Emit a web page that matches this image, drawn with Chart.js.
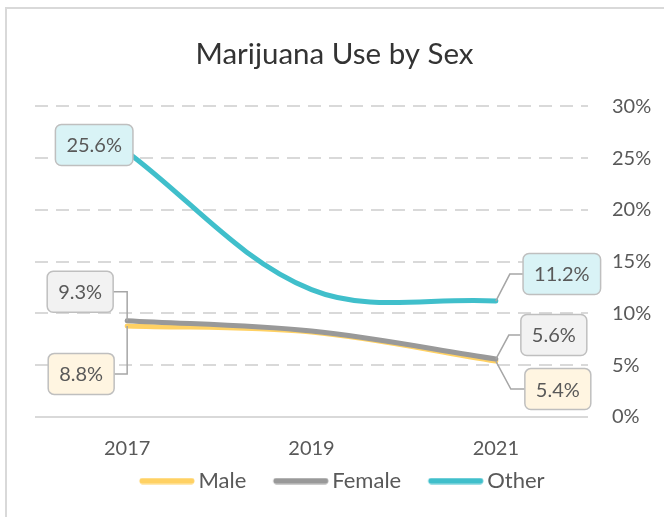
<!DOCTYPE html>
<html>
<head>
<meta charset="utf-8">
<script src="https://cdn.jsdelivr.net/npm/chart.js@4.4.1/dist/chart.umd.min.js"></script>
<style>
  html, body { margin: 0; padding: 0; background: #fff; }
  #wrap { width: 664px; height: 517px; }
</style>
</head>
<body>
<div id="wrap"><canvas id="myChart" width="664" height="517"></canvas></div>
<script>
const years = ['2017', '2019', '2021'];
const male = [8.8, 8.2, 5.4];
const female = [9.3, 8.3, 5.6];
const other = [25.6, 12.3, 11.2];
const yTicks = [0, 5, 10, 15, 20, 25, 30];

const font = "Lato, 'Open Sans', sans-serif";
const textGrey = '#595959';

// value boxes: centre offset from the point, and the elbow of the leader line
const calloutSpots = {
  Male:   {0: {dx: -46, dy: 48, elbow: 0}, 2: {dx: 62, dy: 28, elbow: 15}},
  Female: {0: {dx: -47, dy: -29, elbow: 0}, 2: {dx: 58, dy: -24, elbow: 13}},
  Other:  {0: {dx: -33, dy: -7}, 2: {dx: 66, dy: -27, elbow: 14}}
};
const calloutFill = {Male: '#fff5e1', Female: '#f2f2f2', Other: '#d9f3f6'};

// short thick line used as the legend marker (drawn right of centre so it ends near the text)
function legendStroke(color) {
  const c = document.createElement('canvas');
  c.width = 70;
  c.height = 7;
  const g = c.getContext('2d');
  g.strokeStyle = color;
  g.lineWidth = 6;
  g.lineCap = 'round';
  g.beginPath();
  g.moveTo(15.5, 3.5);
  g.lineTo(64.5, 3.5);
  g.stroke();
  return c;
}

const bgPlugin = {
  id: 'bgFrame',
  afterLayout(chart) {
    // title and legend sit a bit left of the plot centre in the original
    chart.titleBlock.left -= 15;
    chart.titleBlock.right -= 15;
    chart.legend.left -= 9;
    chart.legend.right -= 9;
    chart.legend.top -= 15;
    chart.legend.bottom -= 15;
  },
  beforeDraw(chart) {
    const {ctx} = chart;
    ctx.save();
    ctx.fillStyle = '#fff';
    ctx.fillRect(0, 0, chart.width, chart.height);
    ctx.strokeStyle = '#d9d9d9';
    ctx.lineWidth = 2;
    ctx.strokeRect(6, 8, chart.width + 20, chart.height + 20);
    ctx.restore();
  }
};

const calloutPlugin = {
  id: 'callouts',
  afterDatasetsDraw(chart) {
    const {ctx} = chart;
    chart.data.datasets.forEach((ds, di) => {
      const spots = calloutSpots[ds.label];
      const meta = chart.getDatasetMeta(di);
      Object.keys(spots).forEach(k => {
        const i = +k, s = spots[k];
        const pt = meta.data[i];
        const txt = ds.data[i].toFixed(1) + '%';
        ctx.save();
        ctx.font = '20px ' + font;
        const w = ctx.measureText(txt).width + 22, h = 41;
        const cx = pt.x + s.dx, cy = pt.y + s.dy;
        if (s.elbow !== undefined) {
          const edge = s.dx < 0 ? cx + w / 2 : cx - w / 2;
          ctx.beginPath();
          ctx.moveTo(pt.x, pt.y);
          ctx.lineTo(pt.x + s.elbow, cy);
          ctx.lineTo(edge, cy);
          ctx.strokeStyle = '#a6a6a6';
          ctx.lineWidth = 1.5;
          ctx.stroke();
        }
        ctx.beginPath();
        ctx.roundRect(cx - w / 2, cy - h / 2, w, h, 6);
        ctx.fillStyle = calloutFill[ds.label];
        ctx.fill();
        ctx.strokeStyle = '#bfbfbf';
        ctx.lineWidth = 1.5;
        ctx.stroke();
        ctx.fillStyle = textGrey;
        ctx.textAlign = 'center';
        ctx.textBaseline = 'middle';
        ctx.fillText(txt, cx, cy + 1);
        ctx.restore();
      });
    });
  }
};

const lineSet = (label, values, color, order) => ({
  label: label,
  data: values,
  borderColor: color,
  backgroundColor: color,
  borderWidth: 5,
  pointRadius: 0,
  tension: 0.35,
  borderCapStyle: 'round',
  order: order
});

new Chart(document.getElementById('myChart'), {
  type: 'line',
  data: {
    labels: years,
    datasets: [
      lineSet('Male', male, '#ffd163', 3),
      lineSet('Female', female, '#999999', 2),
      lineSet('Other', other, '#40bfcb', 1)
    ]
  },
  options: {
    responsive: false,
    animation: false,
    devicePixelRatio: 1,
    layout: {padding: {left: 35, right: 0, top: 0, bottom: 0}},
    plugins: {
      title: {
        display: true,
        text: 'Marijuana Use by Sex',
        color: '#333333',
        font: {family: font, size: 29.5, weight: 'normal'},
        padding: {top: 37, bottom: 34}
      },
      legend: {
        position: 'bottom',
        labels: {
          color: textGrey,
          font: {family: font, size: 22},
          usePointStyle: true,
          pointStyleWidth: 51,
          padding: 24,
          sort: (a, b) => a.datasetIndex - b.datasetIndex,
          generateLabels: chart => {
            const items = Chart.defaults.plugins.legend.labels.generateLabels(chart);
            items.forEach(it => { it.pointStyle = legendStroke(it.strokeStyle); });
            return items;
          }
        }
      },
      tooltip: {enabled: false}
    },
    scales: {
      x: {
        offset: true,
        grid: {display: false, drawTicks: false},
        border: {display: false},
        afterFit: scale => { scale.height -= 20; },
        ticks: {color: textGrey, font: {family: font, size: 20}, padding: 20}
      },
      y: {
        position: 'right',
        min: 0,
        max: 30,
        afterBuildTicks: scale => { scale.ticks = yTicks.map(v => ({value: v})); },
        afterFit: scale => { scale.width = 76; },
        grid: {color: '#d9d9d9', lineWidth: 2, drawTicks: false},
        border: {display: false, dash: ctx => (ctx.tick && ctx.tick.value === 0) ? [] : [13, 8]},
        ticks: {color: textGrey, font: {family: font, size: 20}, padding: 24, callback: v => v + '%'}
      }
    }
  },
  plugins: [bgPlugin, calloutPlugin]
});
</script>
</body>
</html>
